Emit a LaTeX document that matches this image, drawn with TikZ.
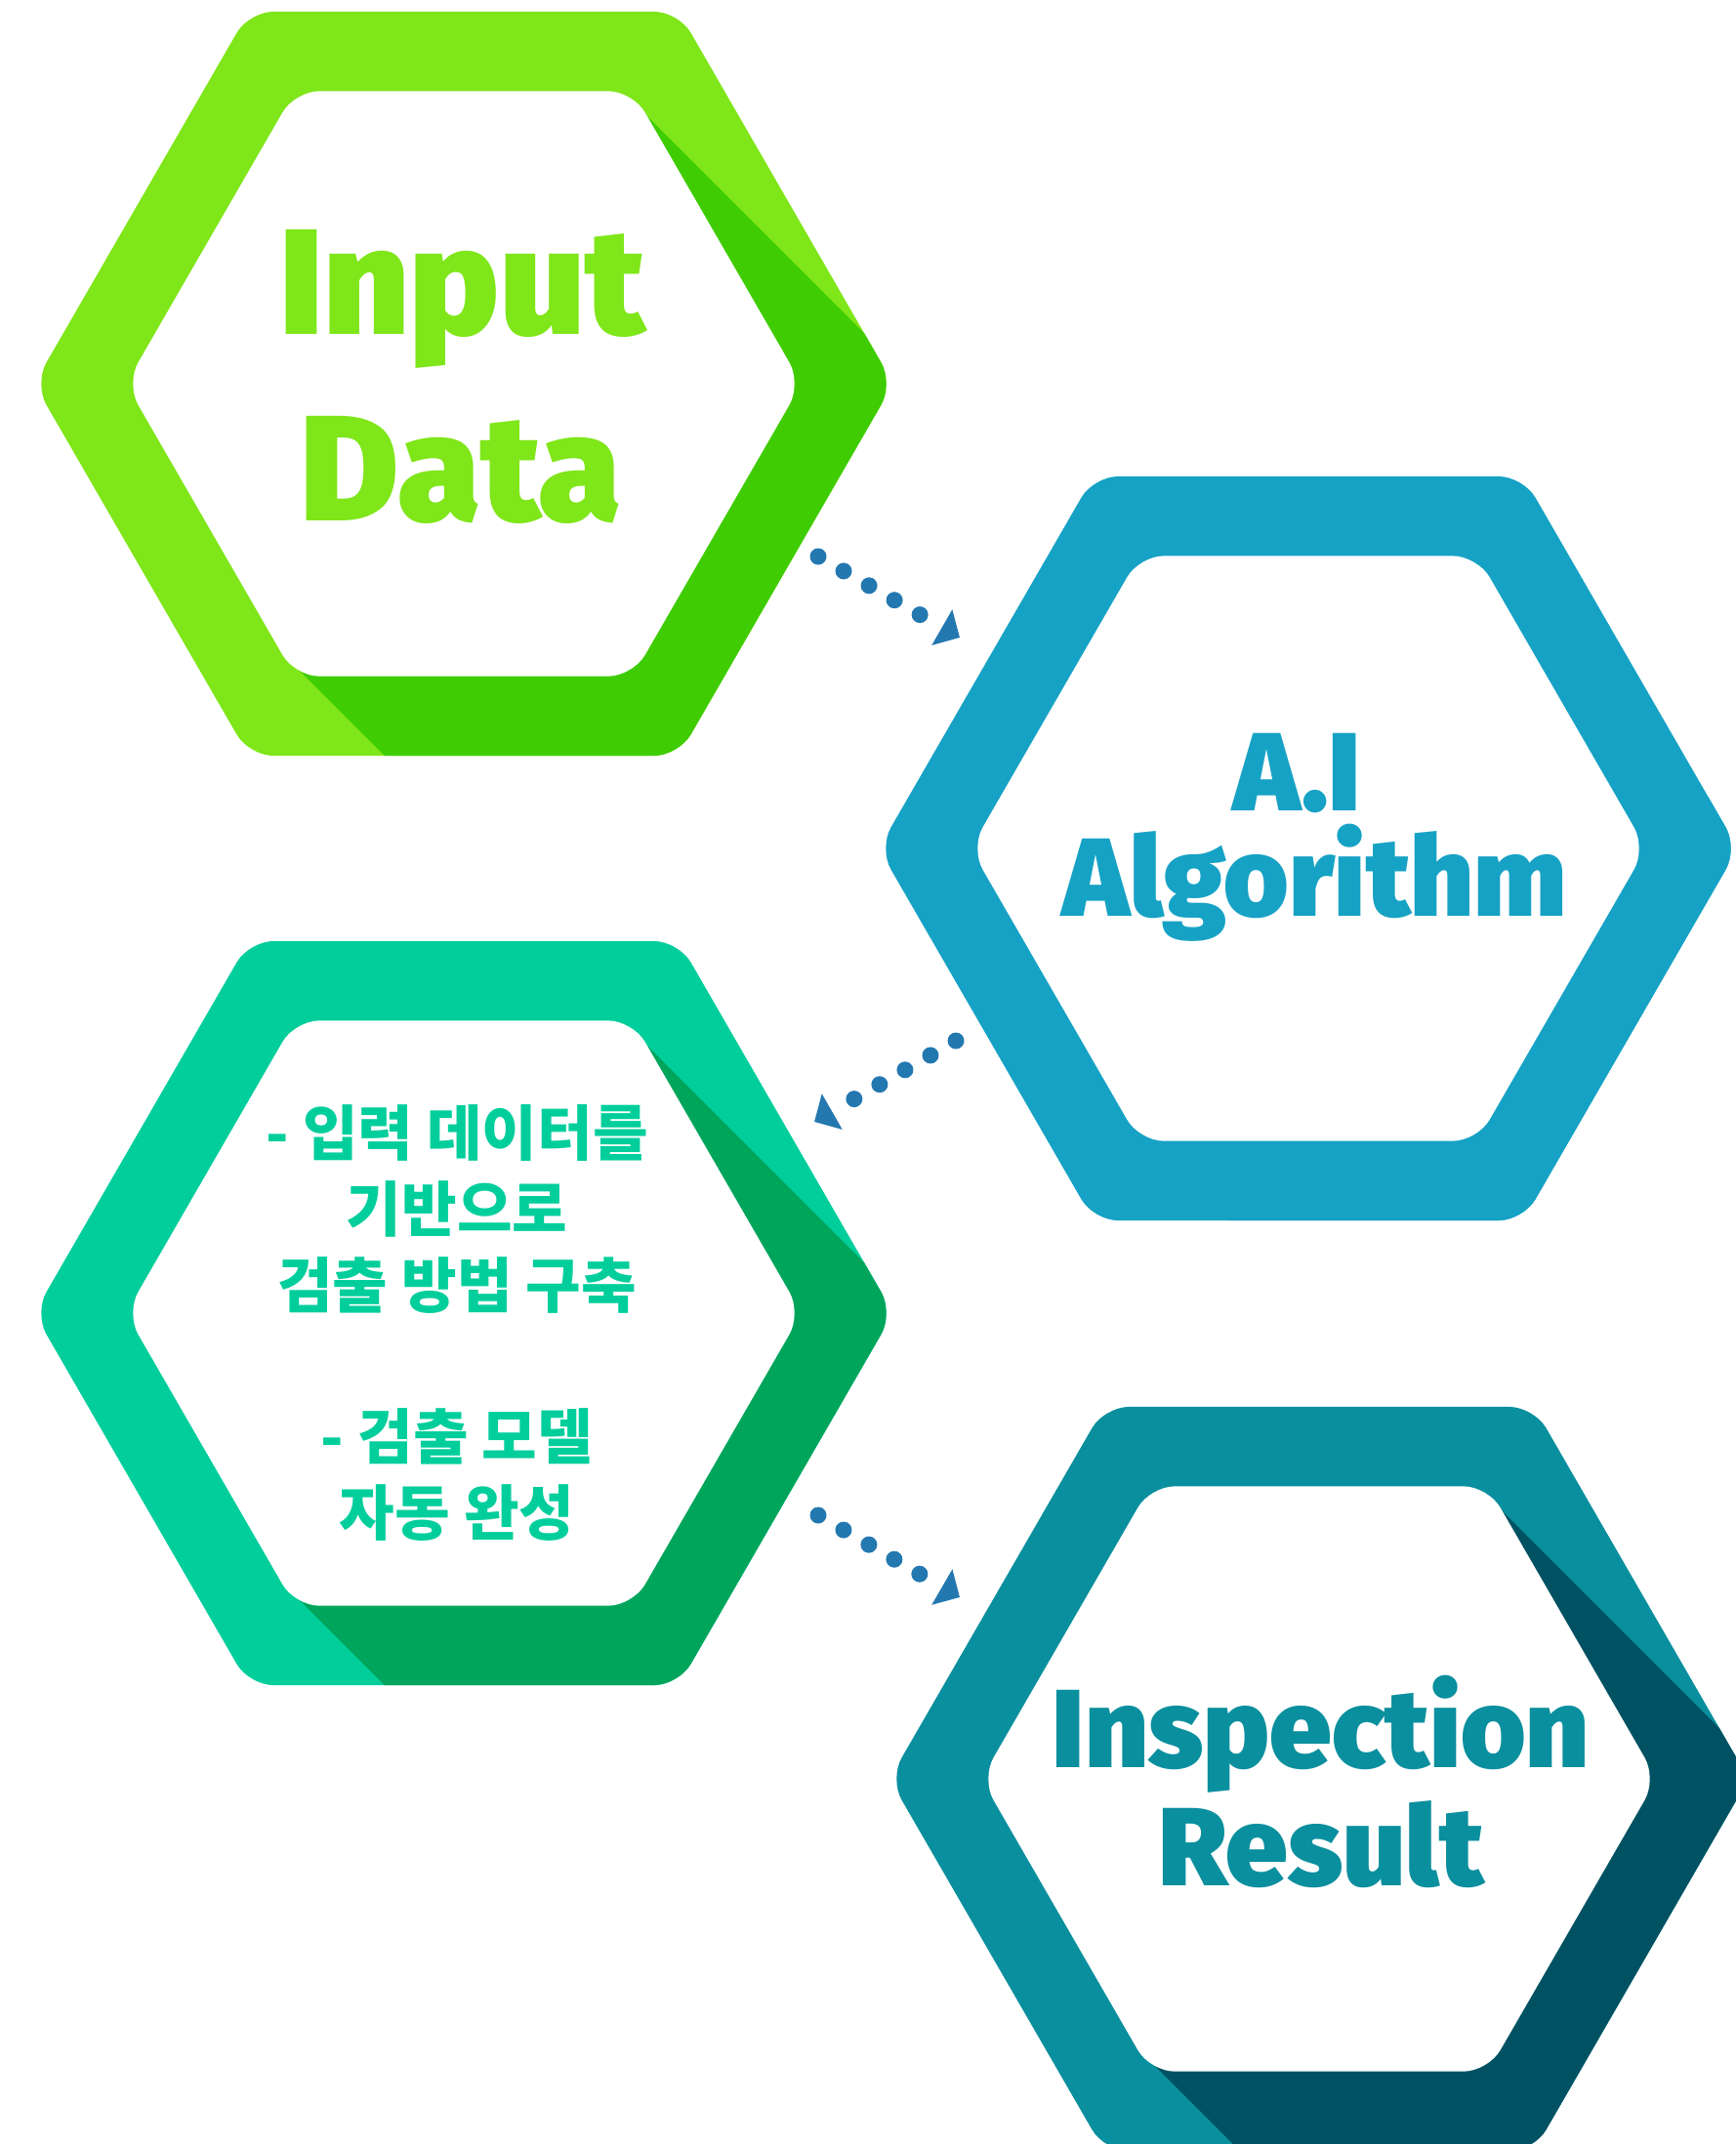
\documentclass[tikz,border=0pt]{standalone}
\usepackage{fontspec}
\setmainfont{Fira Sans}
\newfontfamily\heavy{Fira Sans Black}
\newfontfamily\kor{Noto Sans CJK KR Black}
\usetikzlibrary{arrows.meta}
\definecolor{gA}{HTML}{7FE619}
\definecolor{gB}{HTML}{3FCC03}
\definecolor{bA}{HTML}{16A2C5}
\definecolor{tA}{HTML}{02CE9C}
\definecolor{tB}{HTML}{00A55C}
\definecolor{sA}{HTML}{0A8F9E}
\definecolor{sB}{HTML}{005263}
\definecolor{arrowblue}{HTML}{2478B0}
\tikzset{
    bigword/.style = {anchor=base, font=\heavy\fontsize{43.8}{50}\selectfont},
    midword/.style = {anchor=base, font=\heavy\fontsize{32.4}{38}\selectfont},
    korword/.style = {anchor=base, text=tA, font=\kor\fontsize{17.5}{20}\selectfont},
    flow/.style = {arrowblue, line width=1.7mm, line cap=round, dash pattern=on 0pt off 3mm,
        -{Triangle[length=2.1mm,width=4.1mm]}}
}
\begin{document}
\begin{tikzpicture}
    \useasboundingbox (0,0) rectangle (17.78,-21.96);
    \coordinate (h1) at (4.75,-3.93);
    \coordinate (h2) at (13.40,-8.69);
    \coordinate (h3) at (4.75,-13.45);
    \coordinate (h4) at (13.51,-18.22);
    % rings with their long shadow
    \foreach \c/\lc/\dc in {h1/gA/gB,h2/bA/bA,h3/tA/tB,h4/sA/sB}
    {
        \begin{scope}[shift={(\c)}]
            \fill [\lc,rounded corners=2.5mm] (0:4.40) -- (60:4.40) -- (120:4.40) -- (180:4.40) -- (240:4.40) -- (300:4.40) -- cycle;
            \begin{scope}
                \clip [rounded corners=2.5mm] (0:4.40) -- (60:4.40) -- (120:4.40) -- (180:4.40) -- (240:4.40) -- (300:4.40) -- cycle;
                \fill [\dc] (1.84,2.78) -- (11.84,-7.22) -- (8.16,-12.78) -- (-1.84,-2.78) -- cycle;
            \end{scope}
            \fill [white,rounded corners=2.5mm] (0:3.46) -- (60:3.46) -- (120:3.46) -- (180:3.46) -- (240:3.46) -- (300:3.46) -- cycle;
        \end{scope}
    }
    % labels
    \node [bigword,text=gA] (in1) at (4.74,-3.42) {Input};
    \node [bigword,text=gA] (in2) at (4.72,-5.33) {Data};
    \node [midword,text=bA] (ai1) at (13.29,-8.30) {A.I};
    \node [midword,text=bA] (ai2) at (13.47,-9.38) {Algorithm};
    \node [midword,text=sA] (re1) at (13.53,-18.10) {Inspection};
    \node [midword,text=sA] (re2) at (13.53,-19.31) {Result};
    \foreach \y/\t [count=\i] in {11.83/{- 입력 데이터를},12.61/{기반으로},13.39/{검출 방법 구축},14.94/{- 검출 모델},15.72/{자동 완성}}
        \node [korword] (k\i) at (4.68,-\y) {\t};
    % dotted arrows
    \coordinate (a1) at (8.38,-5.70);
    \coordinate (b1) at (9.83,-6.53);
    \coordinate (a2) at (9.79,-10.66);
    \coordinate (b2) at (8.34,-11.49);
    \coordinate (a3) at (8.38,-15.52);
    \coordinate (b3) at (9.83,-16.36);
    \draw [flow] (a1) -- (b1);
    \draw [flow] (a2) -- (b2);
    \draw [flow] (a3) -- (b3);
\end{tikzpicture}
\end{document}
